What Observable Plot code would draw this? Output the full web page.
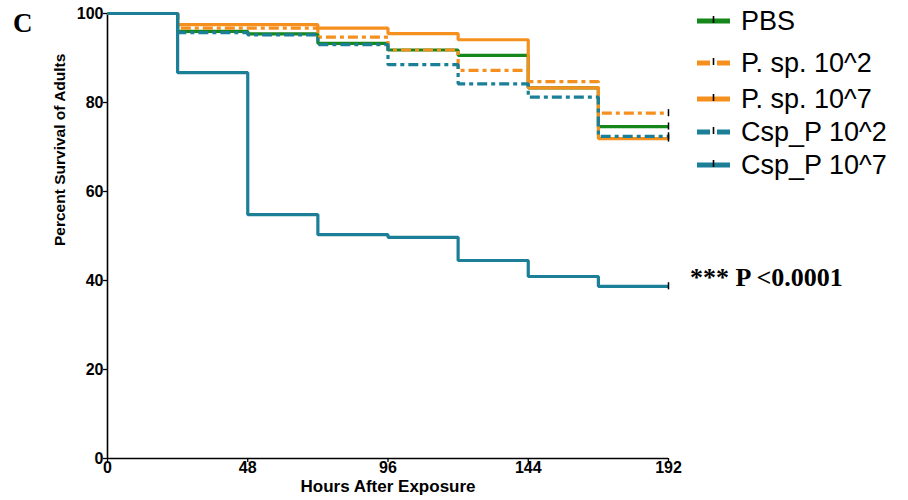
<!DOCTYPE html>
<html>
<head>
<meta charset="utf-8">
<script src="https://cdn.jsdelivr.net/npm/d3@7"></script>
<script src="https://cdn.jsdelivr.net/npm/@observablehq/plot@0.6"></script>
<style>
  body { margin: 0; background: #fff; }
  #wrap { position: relative; width: 908px; height: 500px; background: #fff; overflow: hidden; }
  #wrap svg.plot { position: absolute; left: 0; top: 0; }
  .ann { position: absolute; white-space: nowrap; color: #000; }
  .leg { position: absolute; left: 697px; display: flex; align-items: center; font-family: "Liberation Sans", Arial, sans-serif; font-size: 27px; color: #000; }
  .leg svg { margin-right: 11px; }
</style>
</head>
<body>
<div id="wrap"></div>
<script>
// ---- data ----
const hours = [0, 24, 48, 72, 96, 120, 144, 168, 192];
const seriesNames = ["PBS", "P. sp. 10^2", "P. sp. 10^7", "Csp_P 10^2", "Csp_P 10^7"];
const pbs      = [100, 96.0, 95.4, 93.3, 91.8, 90.6, 83.3, 74.6, 74.6];
const psp2     = [100, 96.7, 96.7, 94.7, 91.8, 87.2, 84.7, 77.6, 77.6];
const psp7     = [100, 97.5, 97.5, 96.7, 95.5, 94.1, 83.3, 71.9, 71.9];
const csp2     = [100, 95.7, 95.2, 93.0, 88.5, 84.2, 81.2, 72.4, 72.4];
const csp7     = [100, 86.7, 54.8, 50.3, 49.7, 44.5, 40.9, 38.7, 38.7];
const seriesValues = [pbs, psp2, psp7, csp2, csp7];
const seriesColors = ["#15871b", "#f5901f", "#f5901f", "#1b7f97", "#1b7f97"];
const seriesDashed = [false, true, false, true, false];
const xTicks = [0, 48, 96, 144, 192];
const yTicks = [0, 20, 40, 60, 80, 100];
const xTitle = "Hours After Exposure";
const yTitle = "Percent Survival of Adults";
const panelLabel = "C";
const pLabel = "*** P <0.0001";

const dash = "10,4,4,4";
const tickFont = 16;

const lineMarks = seriesNames.map((name, i) => {
  const d = hours.map((h, j) => ({h, v: seriesValues[i][j]}));
  return Plot.line(d, {
    x: "h", y: "v", curve: "step-after",
    stroke: seriesColors[i], strokeWidth: 3.2,
    strokeDasharray: seriesDashed[i] ? dash : null,
    strokeLinecap: "butt", strokeLinejoin: "miter"
  });
});

const endMarks = seriesNames.map((name, i) => ({h: 192, v: seriesValues[i][8]}));

const chart = Plot.plot({
  width: 908, height: 500,
  marginLeft: 107, marginRight: 240, marginTop: 13, marginBottom: 42,
  style: { fontFamily: "'Liberation Sans', Arial, sans-serif", fontSize: "15px", fontWeight: "bold", color: "#000", background: "transparent" },
  x: { domain: [0, 192] },
  y: { domain: [0, 100] },
  marks: [
    Plot.axisX({ ticks: xTicks, tickSize: 4, strokeWidth: 1.3, label: null, tickFormat: () => "" }),
    Plot.axisY({ ticks: yTicks, tickSize: 4, strokeWidth: 1.3, label: null, tickFormat: () => "" }),
    Plot.text(xTicks, { x: d => d, y: 0, dy: 3, lineAnchor: "top", textAnchor: "middle", fontSize: tickFont, fontWeight: "bold", fill: "#000" }),
    Plot.text(yTicks, { x: 0, y: d => d, dx: -4, textAnchor: "end", fontSize: tickFont, fontWeight: "bold", fill: "#000" }),
    Plot.ruleY([0], { strokeWidth: 1.6, stroke: "#000" }),
    Plot.ruleX([0], { strokeWidth: 1.6, stroke: "#000" }),
    ...lineMarks,
    Plot.ruleX(endMarks, { x: "h", y1: d => d.v - 0.8, y2: d => d.v + 0.8, stroke: "#000", strokeWidth: 1.5 }),
    Plot.text([xTitle], { frameAnchor: "bottom", dy: 33.5, fontSize: 17, fontWeight: "bold", fill: "#000" }),
    Plot.text([yTitle], { frameAnchor: "left", rotate: -90, dx: -47, dy: 10, fontSize: 15.5, fontWeight: "bold", fill: "#000" })
  ]
});
chart.classList.add("plot");
const wrap = document.getElementById("wrap");
wrap.appendChild(chart);

// panel label and p-value
const c = document.createElement("div");
c.className = "ann";
c.textContent = panelLabel;
c.style.cssText += "left:13px;top:10px;font-family:'Liberation Serif','Times New Roman',serif;font-weight:bold;font-size:27px;line-height:1;";
wrap.appendChild(c);

const p = document.createElement("div");
p.className = "ann";
p.textContent = pLabel;
p.style.cssText += "left:690px;top:265px;font-family:'Liberation Serif','Times New Roman',serif;font-weight:bold;font-size:26px;line-height:1;";
wrap.appendChild(p);

// legend
const legTops = [21, 63, 99, 132, 165];
seriesNames.forEach((name, i) => {
  const row = document.createElement("div");
  row.className = "leg";
  row.style.top = (legTops[i] - 15) + "px";
  row.style.height = "30px";
  const ns = "http://www.w3.org/2000/svg";
  const sw = document.createElementNS(ns, "svg");
  sw.setAttribute("width", 33); sw.setAttribute("height", 12);
  const ln = document.createElementNS(ns, "line");
  ln.setAttribute("x1", 0); ln.setAttribute("x2", 33);
  ln.setAttribute("y1", 6); ln.setAttribute("y2", 6);
  ln.setAttribute("stroke", seriesColors[i]);
  ln.setAttribute("stroke-width", 5);
  if (seriesDashed[i]) ln.setAttribute("stroke-dasharray", "13,7,13");
  sw.appendChild(ln);
  const tk = document.createElementNS(ns, "line");
  tk.setAttribute("x1", 16.5); tk.setAttribute("x2", 16.5);
  tk.setAttribute("y1", 1); tk.setAttribute("y2", 8);
  tk.setAttribute("stroke", "#000"); tk.setAttribute("stroke-width", 1.6);
  sw.appendChild(tk);
  row.appendChild(sw);
  const t = document.createElement("span");
  t.textContent = name;
  row.appendChild(t);
  wrap.appendChild(row);
});
</script>
</body>
</html>
